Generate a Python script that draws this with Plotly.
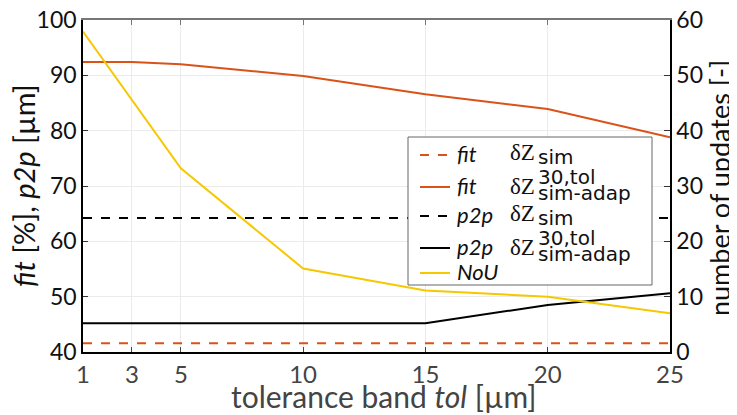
import plotly.graph_objects as go

# ---- data ----
tol = [1, 3, 5, 10, 15, 20, 25]
fit_sim = [41.6, 41.6, 41.6, 41.6, 41.6, 41.6, 41.6]
fit_adap = [92.4, 92.4, 92.0, 89.9, 86.6, 83.9, 78.8]
p2p_sim = [64.2, 64.2, 64.2, 64.2, 64.2, 64.2, 64.2]
p2p_adap = [45.2, 45.2, 45.2, 45.2, 45.2, 48.5, 50.6]
nou = [57.9, 45.5, 33.2, 15.1, 11.1, 10.0, 7.0]

x_ticks = [1, 3, 5, 10, 15, 20, 25]
y_left_ticks = [40, 50, 60, 70, 80, 90, 100]
y_right_ticks = [0, 10, 20, 30, 40, 50, 60]

ORANGE = "#D95319"
YELLOW = "#F5C800"
BLACK = "#000000"

FONT = "Lato, sans-serif"
SUBFONT = "DejaVu Sans, sans-serif"
SERIF = "Liberation Serif, Times New Roman, serif"

OFF = 8  # page body margin
W, H = 737 - OFF, 415 - OFF
L, R, T, B = 83 - OFF, 670 - OFF, 20 - OFF, 352 - OFF  # plot area in figure pixels


def px(x):
    return (x - OFF - L) / (R - L)


def py(y):
    return (B - (y - OFF)) / (B - T)


fig = go.Figure()
fig.add_trace(go.Scatter(x=tol, y=fit_sim, mode="lines", name="fit dZ sim",
                         line=dict(color=ORANGE, width=2, dash="dash"), showlegend=False))
fig.add_trace(go.Scatter(x=tol, y=fit_adap, mode="lines", name="fit dZ sim-adap",
                         line=dict(color=ORANGE, width=2), showlegend=False))
fig.add_trace(go.Scatter(x=tol, y=p2p_sim, mode="lines", name="p2p dZ sim",
                         line=dict(color=BLACK, width=2, dash="dash"), showlegend=False))
fig.add_trace(go.Scatter(x=tol, y=p2p_adap, mode="lines", name="p2p dZ sim-adap",
                         line=dict(color=BLACK, width=2), showlegend=False))
fig.add_trace(go.Scatter(x=tol, y=nou, mode="lines", name="NoU", yaxis="y2",
                         line=dict(color=YELLOW, width=2), showlegend=False))
# invisible trace to activate the top axis
fig.add_trace(go.Scatter(x=[tol[0]], y=[fit_sim[0]], xaxis="x2", mode="markers",
                         marker=dict(opacity=0), showlegend=False, hoverinfo="skip"))

fig.update_layout(
    width=W, height=H,
    margin=dict(l=L, r=W - R, t=T, b=H - B, autoexpand=False),
    paper_bgcolor="white", plot_bgcolor="white",
    font=dict(family=FONT, size=23, color="#222"),
    xaxis=dict(range=[1, 25], tickvals=x_ticks, ticktext=[str(v) for v in x_ticks],
               showgrid=True, gridcolor="#ebebeb", gridwidth=1,
               showline=True, linecolor="#000", linewidth=1.5,
               ticks="inside", ticklen=5, tickcolor="#444",
               tickfont=dict(size=24, color="#444", family=FONT),
               ticklabeloverflow="allow",
               zeroline=False, automargin=False),
    xaxis2=dict(range=[1, 25], overlaying="x", side="top", tickvals=x_ticks,
                showticklabels=False, showgrid=False, showline=True,
                linecolor="#777", linewidth=1.5, ticks="inside", ticklen=5,
                tickcolor="#777", zeroline=False, automargin=False),
    yaxis=dict(range=[40, 100], tickvals=y_left_ticks,
               showgrid=True, gridcolor="#ebebeb", gridwidth=1,
               showline=True, linecolor="#000", linewidth=1.5,
               ticks="inside", ticklen=5, tickcolor="#333",
               tickfont=dict(size=23, color="#111", family=FONT),
               ticklabeloverflow="allow",
               zeroline=False, automargin=False),
    yaxis2=dict(range=[0, 60], tickvals=y_right_ticks, overlaying="y", side="right",
                showgrid=False, showline=True, linecolor="#000", linewidth=1.5,
                ticks="inside", ticklen=6, tickcolor="#333",
                tickfont=dict(size=23, color="#111", family=FONT),
                ticklabeloverflow="allow",
                zeroline=False, automargin=False),
)

shapes = []
annotations = []

# ---- axis titles ----
annotations.append(dict(xref="paper", yref="paper", x=px(383), y=py(396),
                        xanchor="center", yanchor="middle", showarrow=False,
                        text="tolerance band <i>tol</i> [\u00b5m]",
                        font=dict(size=30, color="#444", family=FONT)))
annotations.append(dict(xref="paper", yref="paper", x=px(23), y=py(186),
                        xanchor="center", yanchor="middle", showarrow=False, textangle=-90,
                        text="<i>fit</i> [%], <i>p2p</i> [\u00b5m]",
                        font=dict(size=29, color="#111", family=FONT)))
annotations.append(dict(xref="paper", yref="paper", x=px(719), y=py(188),
                        xanchor="center", yanchor="middle", showarrow=False, textangle=-90,
                        text="number of updates [-]",
                        font=dict(size=27, color="#111", family=FONT)))

# ---- custom legend ----
shapes.append(dict(type="rect", xref="paper", yref="paper",
                   x0=px(408), x1=px(652), y0=py(285), y1=py(137),
                   line=dict(color="#666", width=1), fillcolor="white", layer="above"))

legend_rows = [
    # (row_y, color, dash, label, sup, sub)
    (155, ORANGE, "dash", "fit", None, "sim"),
    (187, ORANGE, "solid", "fit", "30,tol", "sim-adap"),
    (216, BLACK, "dash", "p2p", None, "sim"),
    (248, BLACK, "solid", "p2p", "30,tol", "sim-adap"),
    (273, YELLOW, "solid", "NoU", None, None),
]


def center_from_baseline(base, size):
    return base - 0.3 * size


for ry, color, dash, label, sup, sub in legend_rows:
    shapes.append(dict(type="line", xref="paper", yref="paper",
                       x0=px(420), x1=px(450), y0=py(ry), y1=py(ry),
                       line=dict(color=color, width=2, dash=dash), layer="above"))
    annotations.append(dict(xref="paper", yref="paper", x=px(455),
                            y=py(center_from_baseline(ry + 5, 22)),
                            xanchor="left", yanchor="middle", showarrow=False,
                            text="<i>%s</i>" % label,
                            font=dict(size=22, color="#111", family=FONT)))
    if sub is None:
        continue
    if sup is None:
        dz_base, sub_base = ry + 4, ry + 8
    else:
        dz_base, sub_base = ry + 6, ry + 12
    annotations.append(dict(xref="paper", yref="paper", x=px(508),
                            y=py(center_from_baseline(dz_base, 23)),
                            xanchor="left", yanchor="middle", showarrow=False,
                            text="\u03b4Z",
                            font=dict(size=23, color="#111", family=SERIF)))
    annotations.append(dict(xref="paper", yref="paper", x=px(536),
                            y=py(center_from_baseline(sub_base, 20)),
                            xanchor="left", yanchor="middle", showarrow=False,
                            text=sub, font=dict(size=20, color="#111", family=SUBFONT)))
    if sup is not None:
        annotations.append(dict(xref="paper", yref="paper", x=px(536),
                                y=py(center_from_baseline(ry - 4, 20)),
                                xanchor="left", yanchor="middle", showarrow=False,
                                text=sup, font=dict(size=20, color="#111", family=SUBFONT)))

fig.update_layout(shapes=shapes, annotations=annotations)
fig.write_html("out.html")
